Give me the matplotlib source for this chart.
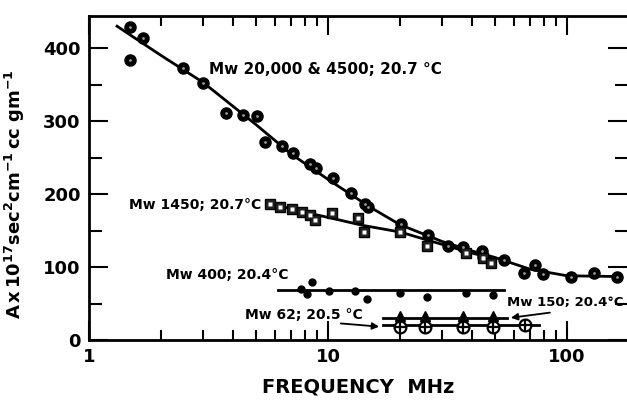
import matplotlib
matplotlib.use("Agg")
import matplotlib.pyplot as plt
from matplotlib.ticker import FixedLocator, NullFormatter

plt.rcParams['font.family'] = ['DejaVu Sans']

# Mw 20,000 & 4500 (filled circles)
f_20000 = [1.48, 1.48, 1.68, 2.47, 3.0, 3.74, 4.41, 5.05, 5.45, 6.42, 7.13, 8.41, 8.9,
           10.5, 12.5, 14.3, 14.7, 20.2, 26.2, 31.8, 36.7, 44.0, 44.6, 54.5, 66.0,
           73.5, 79.0, 104.0, 130.0, 162.0]
a_20000 = [429, 384, 414, 373, 352, 311, 308, 307, 271, 266, 256, 241, 236,
           222, 201, 186, 182, 159, 144, 129, 128, 122, 114, 110, 92,
           103, 90, 86, 92, 86]
line_f_20000 = [1.31, 2.0, 3.0, 5.0, 7.0, 10.0, 15.0, 20.0, 30.0, 40.0, 50.0, 70.0, 100.0, 162.0]
line_a_20000 = [430, 390, 353, 295, 255, 220, 182, 158, 135, 122, 113, 97, 88, 87]

# Mw 1450 (squares)
f_1450 = [5.72, 6.3, 7.07, 7.8, 8.4, 8.8, 10.4, 13.3, 14.1, 20.0, 26.0, 37.7, 44.6, 48.0]
a_1450 = [186, 182, 179, 175, 171, 164, 174, 167, 148, 148, 129, 119, 112, 105]
line_f_1450 = [5.7, 8.0, 10.0, 14.0, 20.0, 30.0, 40.0, 48.0]
line_a_1450 = [187, 175, 168, 157, 148, 131, 119, 113]

# Mw 400 (small dots)
f_400 = [7.7, 8.2, 8.6, 10.1, 13.0, 14.5, 20.0, 26.0, 37.7, 49.0]
a_400 = [70, 63, 80, 67, 67, 56, 65, 59, 65, 62]
line_f_400 = [6.2, 54.5]
line_a_400 = [68, 68]

# Mw 150 (triangles)
f_150 = [20.0, 25.5, 36.7, 49.0]
a_150 = [33, 33, 33, 33]
line_f_150 = [17.0, 56.0]
line_a_150 = [30, 30]

# Mw 62 (circled plus)
f_62 = [20.0, 25.5, 36.7, 49.0, 66.7]
a_62 = [18, 18, 18, 18, 21]
line_f_62 = [17.0, 76.0]
line_a_62 = [20, 20]

fig = plt.figure(figsize=(6.27, 4.0), dpi=100)
ax = fig.add_axes([0.142, 0.15, 0.858, 0.81])
ax.set_xscale('log')
ax.set_xlim(1, 178)
ax.set_ylim(0, 444)

lw = 2.0
ax.plot(line_f_20000, line_a_20000, color='black', lw=lw, zorder=2)
ax.plot(line_f_1450, line_a_1450, color='black', lw=lw, zorder=2)
ax.plot(line_f_400, line_a_400, color='black', lw=lw, zorder=2)
ax.plot(line_f_150, line_a_150, color='black', lw=lw, zorder=2)
ax.plot(line_f_62, line_a_62, color='black', lw=lw, zorder=2)

# circles with a small glint
ax.plot(f_20000, a_20000, 'o', ms=8, mfc='black', mec='black', zorder=3)
ax.plot(f_20000, a_20000, 'o', ms=2, mfc='#999999', mec='none', zorder=4)
# squares
ax.plot(f_1450, a_1450, 's', ms=6.5, mfc='#222222', mec='black', zorder=3)
ax.plot(f_1450, a_1450, 's', ms=2.5, mfc='white', mec='none', zorder=4)
# dots
ax.plot(f_400, a_400, 'o', ms=5, mfc='black', mec='black', zorder=3)
# triangles
ax.plot(f_150, a_150, '^', ms=7, mfc='black', mec='black', zorder=3)
# circled plus
ax.plot(f_62, a_62, 'o', ms=8.5, mfc='white', mec='black', mew=1.6, zorder=3)
ax.plot(f_62, a_62, '+', ms=8, color='black', mew=1.6, zorder=4)

ax.text(3.18, 371, 'Mw 20,000 & 4500; 20.7 °C', va='center', ha='left', fontsize=11, fontweight='bold')
ax.text(1.47, 185, 'Mw 1450; 20.7°C', va='center', ha='left', fontsize=10, fontweight='bold')
ax.text(2.1, 89, 'Mw 400; 20.4°C', va='center', ha='left', fontsize=10, fontweight='bold')
ax.text(4.5, 34, 'Mw 62; 20.5 °C', va='center', ha='left', fontsize=10, fontweight='bold')
ax.text(56, 51, 'Mw 150; 20.4°C', va='center', ha='left', fontsize=9.5, fontweight='bold')

ax.annotate('', xy=(16.8, 18), xytext=(11.0, 23),
            arrowprops=dict(arrowstyle='-|>', color='black', lw=1.3, mutation_scale=10))
ax.annotate('', xy=(56.6, 30), xytext=(87, 38),
            arrowprops=dict(arrowstyle='-|>', color='black', lw=1.3, mutation_scale=10))

ax.set_xlabel('FREQUENCY  MHz', fontsize=14, fontweight='bold', labelpad=8)
ax.set_ylabel(r'$\mathbf{A\,x\,10^{17}sec^{2}cm^{-1}\,cc\ gm^{-1}}$', fontsize=13)
ax.yaxis.set_label_coords(-0.115, 0.45)

ax.set_xticks([1, 10, 100])
ax.set_xticklabels(['1', '10', '100'])
ax.xaxis.set_minor_locator(FixedLocator([2, 3, 4, 5, 6, 7, 8, 9, 20, 30, 40, 50, 60, 70, 80, 90]))
ax.xaxis.set_minor_formatter(NullFormatter())
ax.set_yticks([0, 100, 200, 300, 400])
ax.yaxis.set_minor_locator(FixedLocator([50, 150, 250, 350]))

ax.tick_params(which='both', direction='in', top=True, right=True, width=1.5,
               labelsize=13, pad=6)
ax.tick_params(axis='y', which='major', length=14)
ax.tick_params(axis='y', which='minor', length=9)
ax.tick_params(axis='x', which='major', length=14)
ax.tick_params(axis='x', which='minor', length=7)
for lab in ax.get_xticklabels() + ax.get_yticklabels():
    lab.set_fontweight('bold')

ax.spines['right'].set_visible(False)
for s in ['left', 'bottom', 'top']:
    ax.spines[s].set_linewidth(2)

fig.savefig('out.png', dpi=100)
